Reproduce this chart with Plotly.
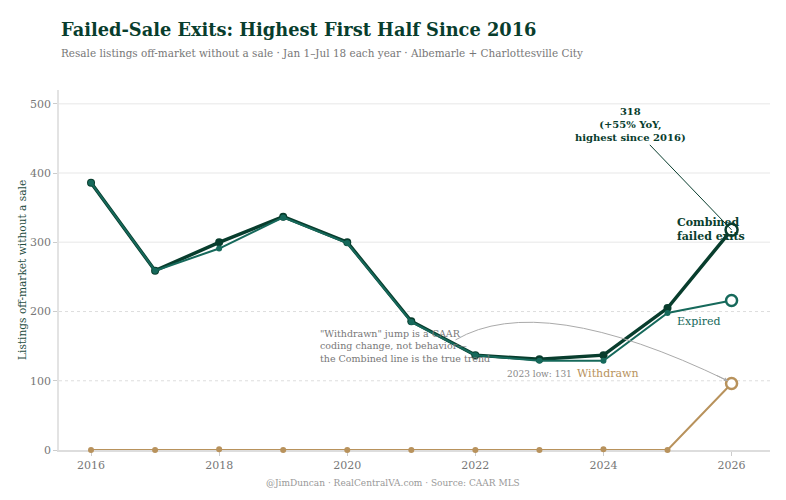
import plotly.graph_objects as go

years = [2016, 2017, 2018, 2019, 2020, 2021, 2022, 2023, 2024, 2025, 2026]
combined = [386, 259, 300, 337, 300, 186, 137, 131, 137, 205, 318]
expired = [386, 259, 291, 336, 299, 185, 137, 129, 129, 198, 216]
withdrawn = [0, 0, 1, 0, 0, 0, 0, 0, 1, 0, 96]
y_ticks = [0, 100, 200, 300, 400, 500]
x_ticks = [2016, 2018, 2020, 2022, 2024, 2026]
note_lines = ["\"Withdrawn\" jump is a CAAR",
              "coding change, not behavior—",
              "the Combined line is the true trend"]

C_COMB = "#083d2d"
C_EXP = "#16695b"
C_WD = "#b8925c"
SERIF = "DejaVu Serif"
COND = "DejaVu Serif Condensed"

fig = go.Figure()

def add_series(vals, color, width, msize, endsize):
    fig.add_trace(go.Scatter(x=years, y=vals, mode="lines", cliponaxis=False,
                             line=dict(color=color, width=width), hoverinfo="skip"))
    fig.add_trace(go.Scatter(x=years[:-1], y=vals[:-1], mode="markers", cliponaxis=False,
                             marker=dict(color=color, size=msize), hoverinfo="skip"))
    fig.add_trace(go.Scatter(x=[years[-1]], y=[vals[-1]], mode="markers", cliponaxis=False,
                             marker=dict(color="white", size=endsize,
                                         line=dict(color=color, width=2.5)),
                             hoverinfo="skip"))

add_series(withdrawn, C_WD, 2, 6, 11)
add_series(combined, C_COMB, 3.5, 8, 12)
add_series(expired, C_EXP, 2, 6, 11)

shapes = []
for v in y_ticks[1:]:
    if v >= 300:
        shapes.append(dict(type="line", xref="paper", x0=0, x1=1, yref="y", y0=v, y1=v,
                           line=dict(color="#efefef", width=1.5), layer="below"))
    else:
        shapes.append(dict(type="line", xref="paper", x0=0, x1=1, yref="y", y0=v, y1=v,
                           line=dict(color="#dddddd", width=1, dash="dot"), layer="below"))

# curved note connector
shapes.append(dict(type="path", xref="x", yref="y",
                   path="M 2021.69,159 Q 2023.02,231 2025.94,100",
                   line=dict(color="#aaaaaa", width=1)))

annotations = [
    dict(text="<b>Failed-Sale Exits: Highest First Half Since 2016</b>", xref="paper", yref="paper",
         x=0, y=1.169, xanchor="left", yanchor="middle", showarrow=False,
         font=dict(family=SERIF, size=17.8, color=C_COMB)),
    dict(text="Resale listings off-market without a sale · Jan 1–Jul 18 each year · Albemarle + Charlottesville City",
         xref="paper", yref="paper", x=0, y=1.103, xanchor="left", yanchor="middle", showarrow=False,
         font=dict(family=COND, size=11.6, color="#777777")),
    dict(text="@JimDuncan · RealCentralVA.com · Source: CAAR MLS", xref="paper", yref="paper",
         x=0.47, y=-0.092, xanchor="center", yanchor="middle", showarrow=False,
         font=dict(family=SERIF, size=9, color="#999999")),
    dict(text="Listings off-market without a sale", xref="paper", yref="paper",
         x=-0.052, y=0.5, xanchor="center", yanchor="middle", textangle=-90, showarrow=False,
         font=dict(family=SERIF, size=10.6, color="#1f4d42")),
    dict(text="<b>318<br>(+55% YoY,<br>highest since 2016)</b>", x=2026, y=318, xref="x", yref="y",
         ax=-101, ay=-105, showarrow=True, arrowhead=0, arrowwidth=1, arrowcolor=C_COMB,
         font=dict(family=SERIF, size=10, color=C_COMB), align="center"),
    dict(text="<b>Combined<br>failed exits</b>", x=2025.12, y=318, xref="x", yref="y",
         xanchor="left", yanchor="middle", showarrow=False, align="left",
         font=dict(family=SERIF, size=11, color=C_COMB)),
    dict(text="Expired", x=2025.12, y=186, xref="x", yref="y", xanchor="left", yanchor="middle",
         showarrow=False, font=dict(family=SERIF, size=11, color=C_EXP)),
    dict(text="Withdrawn", x=2023.56, y=110, xref="x", yref="y", xanchor="left", yanchor="middle",
         showarrow=False, font=dict(family=SERIF, size=11, color=C_WD)),
    dict(text="2023 low: 131", x=2023, y=110, xref="x", yref="y", xanchor="center", yanchor="middle",
         showarrow=False, font=dict(family=SERIF, size=9, color="#888888")),
    dict(text="<br>".join(note_lines), x=2019.54, y=150.5, xref="x", yref="y", xanchor="left",
         yanchor="middle", align="left", showarrow=False,
         font=dict(family=SERIF, size=9.5, color="#777777")),
    dict(text="", x=2026, y=97, xref="x", yref="y", ax=-16, ay=-8, showarrow=True,
         arrowhead=2, arrowsize=0.8, arrowwidth=1, arrowcolor="#aaaaaa", standoff=4),
]

fig.update_layout(
    width=786, height=500,
    margin=dict(l=51, r=24, t=82, b=58),
    paper_bgcolor="white", plot_bgcolor="white",
    showlegend=False,
    shapes=shapes, annotations=annotations,
    font=dict(family=SERIF, color="#777777"),
    xaxis=dict(range=[2015.5, 2026.6], tickvals=x_ticks, ticktext=[str(v) for v in x_ticks],
               showgrid=False, zeroline=False, showline=True, linecolor="#dddddd", linewidth=1.5,
               ticks="outside", ticklen=4, tickcolor="#cccccc", automargin=False,
               layer="below traces",
               tickfont=dict(family=SERIF, size=11, color="#777777")),
    yaxis=dict(range=[0, 520], tickvals=y_ticks, showgrid=False, zeroline=False,
               showline=True, linecolor="#e3e3e3", linewidth=1.5,
               ticks="outside", ticklen=4, tickcolor="#cccccc", automargin=False,
               layer="below traces",
               tickfont=dict(family=SERIF, size=11, color="#777777")),
)

fig.write_html("out.html")
